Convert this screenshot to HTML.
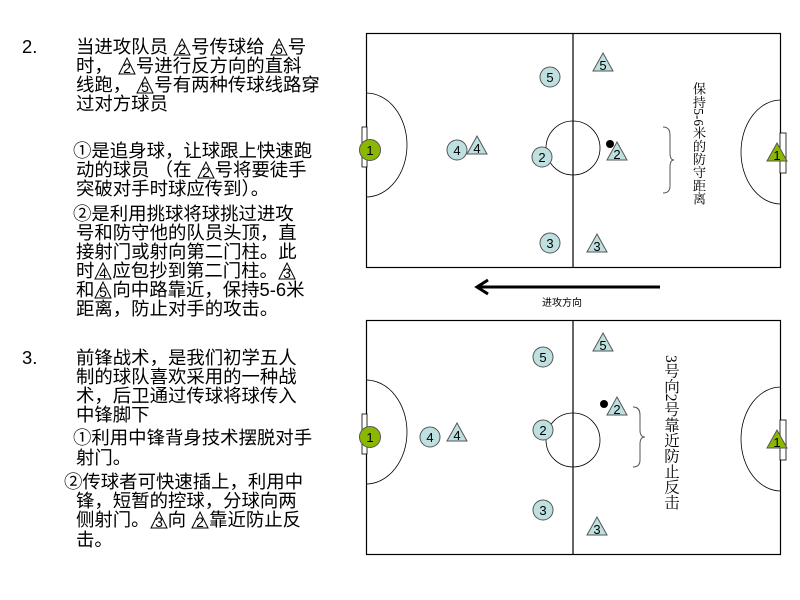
<!DOCTYPE html>
<html><head><meta charset="utf-8"><style>
body{margin:0;width:800px;height:600px;background:#fff;position:relative;overflow:hidden;font-family:"Liberation Sans","Noto Sans CJK SC",sans-serif;}
.l{position:absolute;font-size:18.4px;line-height:19px;white-space:nowrap;color:#000;}
.t{display:inline-block;width:18px;height:18px;vertical-align:-3px;}
.v{position:absolute;writing-mode:vertical-rl;line-height:15px;font-family:"Liberation Serif","Noto Serif CJK SC",serif;}
</style></head><body>
<svg width="0" height="0" style="position:absolute"><defs>
<symbol id="tr" viewBox="0 0 18 18"><polygon points="9,1 17,17 1,17" fill="#fff" stroke="#000" stroke-width="1"/></symbol></defs></svg>
<div class="l" style="left:22px;top:37px">2.</div>
<div class="l" style="left:76px;top:37px">当进攻队员 <span class="t"><svg width="18" height="18"><use href="#tr"/><text x="9" y="16" font-size="14" text-anchor="middle">2</text></svg></span>号传球给 <span class="t"><svg width="18" height="18"><use href="#tr"/><text x="9" y="16" font-size="14" text-anchor="middle">5</text></svg></span>号</div>
<div class="l" style="left:76px;top:56px">时， <span class="t"><svg width="18" height="18"><use href="#tr"/><text x="9" y="16" font-size="14" text-anchor="middle">2</text></svg></span>号进行反方向的直斜</div>
<div class="l" style="left:76px;top:75px">线跑， <span class="t"><svg width="18" height="18"><use href="#tr"/><text x="9" y="16" font-size="14" text-anchor="middle">5</text></svg></span>号有两种传球线路穿</div>
<div class="l" style="left:76px;top:94px">过对方球员</div>
<div class="l" style="left:73px;top:141px">①是追身球，让球跟上快速跑</div>
<div class="l" style="left:76px;top:160px">动的球员 （在 <span class="t"><svg width="18" height="18"><use href="#tr"/><text x="9" y="16" font-size="14" text-anchor="middle">2</text></svg></span>号将要徒手</div>
<div class="l" style="left:76px;top:179px">突破对手时球应传到）。</div>
<div class="l" style="left:73px;top:204px">②是利用挑球将球挑过进攻</div>
<div class="l" style="left:76px;top:223px">号和防守他的队员头顶，直</div>
<div class="l" style="left:76px;top:242px">接射门或射向第二门柱。此</div>
<div class="l" style="left:76px;top:261px">时<span class="t"><svg width="18" height="18"><use href="#tr"/><text x="9" y="16" font-size="14" text-anchor="middle">4</text></svg></span>应包抄到第二门柱。<span class="t"><svg width="18" height="18"><use href="#tr"/><text x="9" y="16" font-size="14" text-anchor="middle">3</text></svg></span></div>
<div class="l" style="left:76px;top:280px">和<span class="t"><svg width="18" height="18"><use href="#tr"/><text x="9" y="16" font-size="14" text-anchor="middle">5</text></svg></span>向中路靠近，保持5-6米</div>
<div class="l" style="left:76px;top:299px">距离，防止对手的攻击。</div>
<div class="l" style="left:22px;top:348px">3.</div>
<div class="l" style="left:76px;top:348px">前锋战术，是我们初学五人</div>
<div class="l" style="left:76px;top:367px">制的球队喜欢采用的一种战</div>
<div class="l" style="left:76px;top:386px">术，后卫通过传球将球传入</div>
<div class="l" style="left:76px;top:405px">中锋脚下</div>
<div class="l" style="left:73px;top:428px">①利用中锋背身技术摆脱对手</div>
<div class="l" style="left:76px;top:448px">射门。</div>
<div class="l" style="left:64px;top:472px">②传球者可快速插上，利用中</div>
<div class="l" style="left:76px;top:491px">锋，短暂的控球，分球向两</div>
<div class="l" style="left:76px;top:510px">侧射门。<span class="t"><svg width="18" height="18"><use href="#tr"/><text x="9" y="16" font-size="14" text-anchor="middle">3</text></svg></span>向 <span class="t"><svg width="18" height="18"><use href="#tr"/><text x="9" y="16" font-size="14" text-anchor="middle">2</text></svg></span>靠近防止反</div>
<div class="l" style="left:76px;top:530px">击。</div>

<svg width="800" height="600" style="position:absolute;left:0;top:0" font-family="Liberation Sans, sans-serif">
<defs>
<g id="fld" fill="none" stroke="#000">
<rect x="366.5" y="0.5" width="414" height="234" stroke-width="1.2"/>
<line x1="573" y1="0" x2="573" y2="234" stroke-width="1.2"/>
<path d="M366 60 A41 52 0 0 1 366 164" stroke-width="0.8"/>
<path d="M781 67 A40 52 0 0 0 781 171" stroke-width="0.8"/>
<rect x="362" y="94" width="5" height="40" fill="#fff" stroke-width="0.8"/>
<rect x="780" y="100" width="6" height="40" fill="#fff" stroke-width="0.8"/>
</g>
<g id="cp"><circle r="10" fill="#bfe0e0" stroke="#555"/></g>
<g id="tp"><polygon points="0,-10 10,8 -10,8" fill="#bfe0e0" stroke="#555"/></g>
</defs>
<g transform="translate(0,33)"><use href="#fld"/><circle cx="573" cy="115" r="27" fill="none" stroke="#000" stroke-width="0.8"/></g>
<g transform="translate(0,320)"><use href="#fld"/><circle cx="573" cy="120" r="27" fill="none" stroke="#000" stroke-width="0.8"/></g>
<g font-size="13" text-anchor="middle">
<circle cx="370" cy="150" r="10.5" fill="#8ab800" stroke="#555"/><text x="370" y="155">1</text>
<polygon points="777,143 787,161 767,161" fill="#8ab800" stroke="#555"/><text x="777" y="160">1</text>
<use href="#cp" x="550" y="77"/><text x="550" y="82">5</text>
<use href="#tp" x="603" y="63"/><text x="603" y="70">5</text>
<use href="#cp" x="457" y="150"/><text x="457" y="155">4</text>
<use href="#tp" x="477" y="146"/><text x="477" y="153">4</text>
<use href="#cp" x="542" y="157"/><text x="542" y="162">2</text>
<circle cx="610" cy="144" r="4" fill="#000"/>
<use href="#tp" x="617" y="152"/><text x="617" y="159">2</text>
<use href="#cp" x="550" y="243"/><text x="550" y="248">3</text>
<use href="#tp" x="597" y="244"/><text x="597" y="251">3</text>

<circle cx="370" cy="437" r="10.5" fill="#8ab800" stroke="#555"/><text x="370" y="442">1</text>
<polygon points="777,430 787,448 767,448" fill="#8ab800" stroke="#555"/><text x="777" y="447">1</text>
<use href="#cp" x="543" y="357"/><text x="543" y="362">5</text>
<use href="#tp" x="603" y="343"/><text x="603" y="350">5</text>
<circle cx="604" cy="404" r="4" fill="#000"/>
<use href="#tp" x="617" y="407"/><text x="617" y="414">2</text>
<use href="#cp" x="543" y="430"/><text x="543" y="435">2</text>
<use href="#cp" x="430" y="437"/><text x="430" y="442">4</text>
<use href="#tp" x="457" y="433"/><text x="457" y="440">4</text>
<use href="#cp" x="543" y="510"/><text x="543" y="515">3</text>
<use href="#tp" x="597" y="527"/><text x="597" y="534">3</text>
</g>
<path d="M663 127 Q670 127 670 135 L670 153 Q670 160 674 160 Q670 160 670 167 L670 186 Q670 193 663 193" fill="none" stroke="#555"/>
<path d="M633 407 Q640 407 640 415 L640 430 Q640 437 645 437 Q640 437 640 444 L640 460 Q640 467 633 467" fill="none" stroke="#555"/>
<line x1="660" y1="287" x2="480" y2="287" stroke="#000" stroke-width="3"/>
<polyline points="488,280 477,287 488,294" fill="none" stroke="#000" stroke-width="3"/>
<text x="562" y="306" font-size="10" text-anchor="middle" font-family="Noto Sans CJK SC, sans-serif">进攻方向</text>
</svg>
<div class="v" style="left:691px;top:82px;font-size:13.2px">保持5-6米的防守距离</div>
<div class="v" style="left:663px;top:355px;font-size:15.5px">3号向2号靠近防止反击</div>
</body></html>
